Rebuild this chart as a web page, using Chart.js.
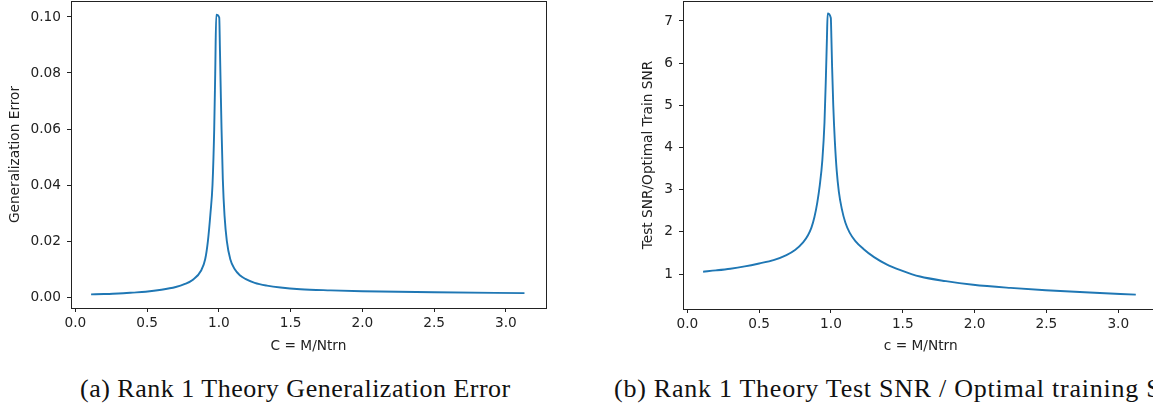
<!DOCTYPE html>
<html>
<head>
<meta charset="utf-8">
<script src="https://cdn.jsdelivr.net/npm/chart.js@4/dist/chart.umd.min.js"></script>
<style>
  html, body { margin: 0; padding: 0; background: #fff; overflow: hidden; }
  #wrap { position: relative; width: 1153px; height: 407px; overflow: hidden; background: #fff; }
  canvas { position: absolute; top: 0; }
  #cA { left: 0; }
  #cB { left: 632px; }
  .cap { position: absolute; font-family: "Liberation Serif", serif; color: #111; white-space: nowrap;
         line-height: 1; font-size: 26px; top: 376px; }
  #capA { left: 80px; letter-spacing: 0.5px; }
  #capB { left: 614px; letter-spacing: 0.75px; }
</style>
</head>
<body>
<div id="wrap">
  <canvas id="cA" width="560" height="360" style="width:560px;height:360px"></canvas>
  <canvas id="cB" width="540" height="360" style="width:540px;height:360px"></canvas>
  <div class="cap" id="capA">(a) Rank 1 Theory Generalization Error</div>
  <div class="cap" id="capB">(b) Rank 1 Theory Test SNR / Optimal training SNR</div>
</div>
<script>
// (a) generalization error against c = M/Ntrn
const cErr = [0.11, 0.2, 0.3, 0.4, 0.49, 0.6, 0.7, 0.76, 0.82, 0.877, 0.905, 0.924, 0.942, 0.956, 0.968, 0.975, 0.982,
              1.003, 1.008, 1.013, 1.019, 1.028, 1.04, 1.056, 1.08, 1.11, 1.149, 1.185, 1.25, 1.335, 1.43, 1.568, 1.78, 2.0, 2.5, 3.13];
const genErr = [0.00096, 0.0011, 0.0013, 0.0016, 0.0019, 0.0026, 0.0036, 0.0046, 0.0062, 0.0095, 0.0135, 0.020, 0.030, 0.040, 0.060, 0.080, 0.1008,
                0.0998, 0.088, 0.075, 0.060, 0.042, 0.029, 0.020, 0.0135, 0.0100, 0.0077, 0.0065, 0.0051, 0.0041, 0.0034, 0.0028, 0.0024, 0.0021, 0.0017, 0.0014];

// (b) test SNR / optimal train SNR against c = M/Ntrn
const cSnr = [0.11, 0.2, 0.3, 0.4, 0.5, 0.6, 0.69, 0.75, 0.806, 0.84, 0.864, 0.885, 0.905, 0.922, 0.94, 0.955, 0.965, 0.972, 0.977,
              0.999, 1.003, 1.008, 1.016, 1.027, 1.04, 1.055, 1.075, 1.1, 1.13, 1.17, 1.224, 1.3, 1.387, 1.479, 1.62, 1.8, 1.99, 2.25, 2.495, 2.8, 3.122];
const snrRatio = [1.055, 1.085, 1.125, 1.18, 1.25, 1.33, 1.45, 1.57, 1.75, 1.92, 2.1, 2.35, 2.7, 3.1, 3.7, 4.6, 5.7, 6.6, 7.18,
                  7.07, 6.6, 5.9, 5.0, 4.15, 3.45, 2.95, 2.55, 2.22, 1.98, 1.78, 1.6, 1.4, 1.23, 1.1, 0.94, 0.83, 0.745, 0.67, 0.615, 0.56, 0.51];

// tick labels
const xTicks = [0, 0.5, 1.0, 1.5, 2.0, 2.5, 3.0];
const errTicks = [0.00, 0.02, 0.04, 0.06, 0.08, 0.10];
const snrTicks = [1, 2, 3, 4, 5, 6, 7];

const LINE = '#1f77b4';
const INK = '#222';
const FONT = { family: '"DejaVu Sans", sans-serif', size: 13.7 };

// box around the plotting area (all four spines)
const frame = {
  id: 'frame',
  afterDraw(chart) {
    const { ctx, chartArea: a } = chart;
    ctx.save();
    ctx.strokeStyle = INK;
    ctx.lineWidth = 1;
    ctx.strokeRect(Math.round(a.left) + 0.5, Math.round(a.top) + 0.5,
                   Math.round(a.right - a.left), Math.round(a.bottom - a.top));
    ctx.restore();
  }
};

// fixed axis boxes; no extra room reserved for edge labels
const fixBox = (prop, size) => s => {
  s[prop] = size;
  s.paddingTop = 0; s.paddingBottom = 0; s.paddingLeft = 0; s.paddingRight = 0;
};

function makeChart(id, xs, ys, cfg) {
  const pts = xs.map((x, i) => ({ x, y: ys[i] }));
  return new Chart(document.getElementById(id), {
    type: 'line',
    data: { datasets: [{ data: pts, borderColor: LINE, borderWidth: 1.9, pointRadius: 0,
                         fill: false, cubicInterpolationMode: 'monotone' }] },
    options: {
      responsive: false, animation: false, devicePixelRatio: 1,
      layout: { padding: { top: 1, right: cfg.padRight, left: 0, bottom: 0 } },
      plugins: { legend: { display: false }, tooltip: { enabled: false } },
      scales: {
        x: {
          type: 'linear', min: -0.03, max: 3.28,
          afterBuildTicks: s => { s.ticks = xTicks.map(v => ({ value: v })); },
          afterFit: fixBox('height', cfg.xHeight),
          grid: { drawOnChartArea: false, drawTicks: true, tickLength: 4, tickColor: INK, tickWidth: 1 },
          border: { display: false },
          ticks: { font: FONT, color: INK, padding: 3, maxRotation: 0, callback: v => v.toFixed(1) },
          title: { display: true, text: cfg.xTitle, font: FONT, color: INK, padding: { top: 0, bottom: 5 } }
        },
        y: {
          type: 'linear', min: cfg.yMin, max: cfg.yMax,
          afterBuildTicks: s => { s.ticks = cfg.yTicks.map(v => ({ value: v })); },
          afterFit: fixBox('width', cfg.yWidth),
          grid: { drawOnChartArea: false, drawTicks: true, tickLength: 4, tickColor: INK, tickWidth: 1 },
          border: { display: false },
          ticks: { font: FONT, color: INK, padding: 6, callback: cfg.yFmt },
          title: { display: true, text: cfg.yTitle, font: FONT, color: INK, padding: { top: cfg.yTitlePad, bottom: 0 } }
        }
      }
    },
    plugins: [frame]
  });
}

makeChart('cA', cErr, genErr, {
  padRight: 14, xHeight: 52, yWidth: 71, yTitlePad: 7,
  yMin: -0.0039, yMax: 0.1057, yTicks: errTicks, yFmt: v => v.toFixed(2),
  xTitle: 'C = M/Ntrn', yTitle: 'Generalization Error'
});

makeChart('cB', cSnr, snrRatio, {
  padRight: 13.5, xHeight: 51, yWidth: 51, yTitlePad: 8.4,
  yMin: 0.17, yMax: 7.474, yTicks: snrTicks, yFmt: v => String(v),
  xTitle: 'c = M/Ntrn', yTitle: 'Test SNR/Optimal Train SNR'
});
</script>
</body>
</html>
